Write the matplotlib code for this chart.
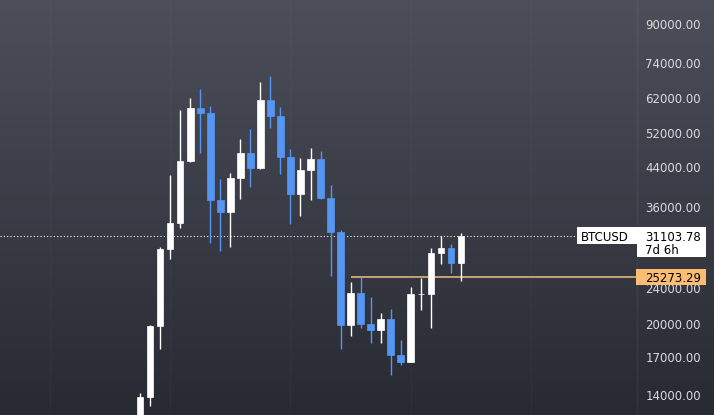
import numpy as np
import matplotlib
matplotlib.use('Agg')
import matplotlib.pyplot as plt
from matplotlib.patches import Rectangle
from matplotlib.lines import Line2D
from matplotlib.transforms import IdentityTransform
from matplotlib.ticker import FixedLocator, NullLocator, FuncFormatter

# ## Data: monthly BTCUSD candles, Oct 2020 .. Jun 2023
months = ['2020-10', '2020-11', '2020-12', '2021-01', '2021-02', '2021-03',
          '2021-04', '2021-05', '2021-06', '2021-07', '2021-08', '2021-09',
          '2021-10', '2021-11', '2021-12', '2022-01', '2022-02', '2022-03',
          '2022-04', '2022-05', '2022-06', '2022-07', '2022-08', '2022-09',
          '2022-10', '2022-11', '2022-12', '2023-01', '2023-02', '2023-03',
          '2023-04', '2023-05', '2023-06']
opens = [10800, 13880, 19810, 29130, 33190, 45290, 59070, 57610, 37300, 35130,
         41590, 47140, 43790, 61490, 56830, 46280, 38440, 43290, 45750, 37680,
         31780, 19940, 23370, 20040, 19440, 20510, 17150, 16560, 23200, 23230,
         28560, 29280, 27210]
highs = [14160, 19910, 29430, 42220, 58480, 62110, 64970, 59670, 41380, 42640,
         50570, 53170, 67290, 69340, 59370, 48100, 45980, 48340, 47620, 40160,
         32050, 24700, 25320, 22900, 21140, 21570, 18460, 24090, 25240, 29280,
         31100, 29880, 31570]
lows = [10400, 13285, 17680, 27760, 32420, 45100, 47210, 30070, 28890, 29480,
        37500, 39820, 43580, 53520, 42500, 33080, 34430, 37300, 37500, 25490,
        17680, 18860, 19640, 18220, 18220, 15520, 16320, 16500, 21490, 19640,
        27070, 25880, 24860]
closes = [13880, 19810, 29130, 33190, 45290, 59070, 57610, 37300, 35130, 41590,
          47140, 43790, 61490, 56830, 46280, 38440, 43290, 45750, 37680, 31780,
          19940, 23370, 20040, 19440, 20510, 17150, 16560, 23240, 23230, 28560,
          29280, 27210, 31103.78]

symbol = 'BTCUSD'
countdown = '7d 6h'
alert_level = 25273.29
alert_start = 21  # candle index where the level line starts
year_starts = [-9, 3, 15, 27, 39]
price_ticks = [14000, 17000, 20000, 24000, 36000, 44000, 52000, 62000, 74000, 90000]

up_color = '#ffffff'
down_color = '#5596f2'
label_color = '#d9dadc'
alert_color = '#f0bf86'
alert_box = '#fbbd72'

# ## Figure
W, H = 714, 415
fig = plt.figure(figsize=(W / 100, H / 100), dpi=100)

# gradient background
bg = fig.add_axes([0, 0, 1, 1])
top = np.array([76, 79, 90]) / 255
bottom = np.array([40, 42, 51]) / 255
t = np.linspace(0, 1, 256)[:, None]
grad = (top * (1 - t) + bottom * t)[:, None, :]
bg.imshow(grad, aspect='auto', extent=[0, 1, 0, 1])
bg.set_axis_off()

plot_w = 637
ax = fig.add_axes([0, 0, plot_w / W, 1])
ax.set_facecolor('none')
ax.set_yscale('log')
ax.set_xlim(-13.96, 49.55)
ax.set_ylim(12680, 101500)

for xg in year_starts:
    ax.axvline(xg, color='white', alpha=0.025, lw=1, zorder=0)

x = np.arange(len(opens))
o = np.array(opens, dtype=float)
c = np.array(closes, dtype=float)
colors = [up_color if ci >= oi else down_color for oi, ci in zip(o, c)]
ax.vlines(x, lows, highs, colors=colors, lw=1.0, zorder=2)
ax.bar(x, np.abs(c - o), bottom=np.minimum(o, c), width=0.665,
       color=colors, edgecolor=colors, lw=0.5, zorder=3)

# last price dotted line and alert level
ax.axhline(closes[-1], xmin=0, xmax=577 / plot_w, color='white',
           lw=0.8, ls=(0, (1, 2)), zorder=1)
ax.hlines(alert_level, alert_start, ax.get_xlim()[1], color=alert_color,
          lw=1.1, zorder=1)

ax.yaxis.set_major_locator(FixedLocator(price_ticks))
ax.yaxis.set_minor_locator(NullLocator())
ax.yaxis.set_major_formatter(FuncFormatter(lambda v, p: f'{v:.2f}'))
ax.yaxis.tick_right()
ax.tick_params(axis='y', length=0, pad=6, labelcolor=label_color, labelsize=8.5)
ax.set_xticks([])
for s in ax.spines.values():
    s.set_visible(False)

fig.add_artist(Line2D([plot_w / W] * 2, [0, 1], transform=fig.transFigure,
                      color='white', alpha=0.05, lw=1))

# price labels on the axis
y_cur = ax.transData.transform((0, closes[-1]))[1]
y_lvl = ax.transData.transform((0, alert_level))[1]
px = IdentityTransform()
fig.add_artist(Rectangle((577, y_cur - 8), 60, 17, transform=px,
                         facecolor='white', edgecolor='none'))
fig.add_artist(Rectangle((637, y_cur - 21), 69, 30, transform=px,
                         facecolor='white', edgecolor='none'))
fig.add_artist(Rectangle((636, y_lvl - 8), 70, 16, transform=px,
                         facecolor=alert_box, edgecolor='none'))
fig.text(581, y_cur, symbol, transform=px, color='black', fontsize=8.5,
         va='center_baseline', ha='left')
fig.text(645, y_cur, f'{closes[-1]:.2f}', transform=px, color='black',
         fontsize=8.5, va='center_baseline', ha='left')
fig.text(645, y_cur - 13, countdown, transform=px, color='black',
         fontsize=8.5, va='center_baseline', ha='left')
fig.text(645, y_lvl, f'{alert_level:.2f}', transform=px, color='black',
         fontsize=8.5, va='center_baseline', ha='left')

fig.savefig('out.png', dpi=100)
